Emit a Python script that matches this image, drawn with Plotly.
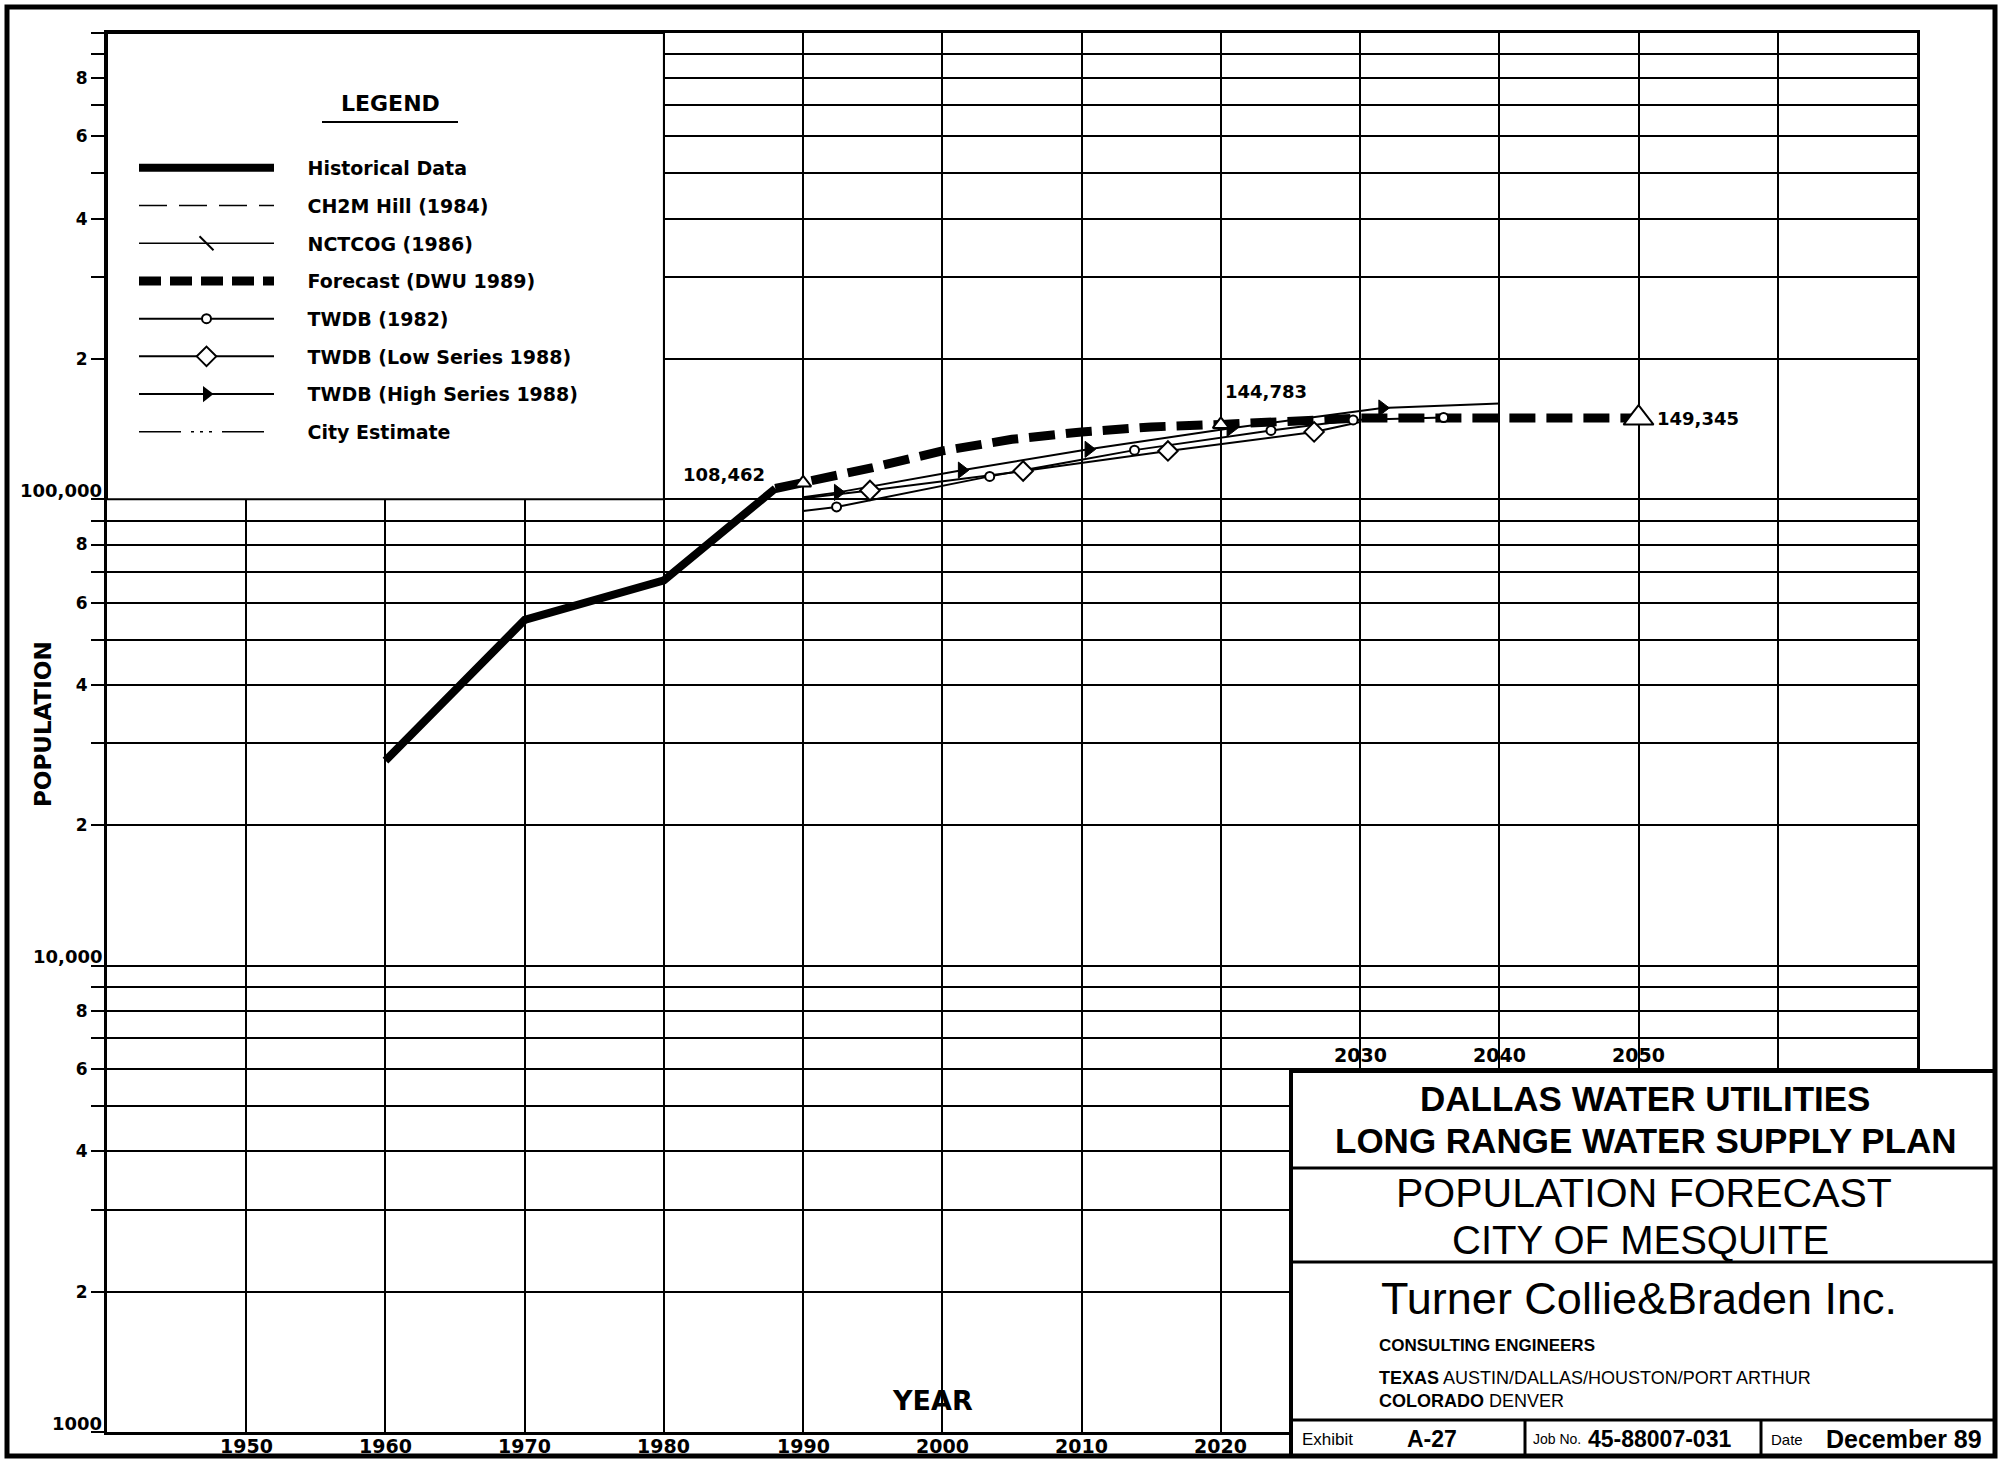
import math
import plotly.graph_objects as go

# ---------------- data ----------------
hist_years = [1960, 1970, 1980, 1988]
hist_pop = [27526, 55131, 67053, 105500]

forecast_years = [1988, 1990, 1995, 2000, 2005, 2010, 2015, 2020, 2025, 2030, 2040, 2050]
forecast_pop = [105500, 108462, 117000, 127000, 134500, 139500, 143000, 144783, 147500, 149345, 149345, 149345]

twdb82_years = [1990, 1992.4, 2003.4, 2013.8, 2023.6, 2029.5, 2036]
twdb82_pop = [94400, 96300, 112000, 127500, 140500, 148000, 149800]

twdb_low_years = [1990, 1994.8, 2005.8, 2016.2, 2026.7, 2030]
twdb_low_pop = [100500, 104500, 115000, 127000, 139500, 146500]

twdb_high_years = [1990, 1992.5, 2001.4, 2010.5, 2020.7, 2031.6, 2040]
twdb_high_pop = [101000, 103500, 115500, 128000, 142000, 157000, 160500]

key_years = [1990, 2020, 2050]
key_pop = [108462, 144783, 149345]
key_labels = ["108,462", "144,783", "149,345"]

x_grid_years = list(range(1940, 2071, 10))
lower_year_values = [1950, 1960, 1970, 1980, 1990, 2000, 2010, 2020]
lower_year_labels = ["1950", "1960", "1970", "1980", "1990", "2000", "2010", "2020"]
upper_year_values = [2030, 2040, 2050]
upper_year_labels = ["2030", "2040", "2050"]

decade_values = [3, 4, 5]          # log10 of 1000, 10,000, 100,000
decade_labels = ["1000", "10,000", "100,000"]

legend_names = ["Historical Data", "CH2M Hill (1984)", "NCTCOG (1986)", "Forecast (DWU 1989)",
                "TWDB (1982)", "TWDB (Low Series 1988)", "TWDB (High Series 1988)", "City Estimate"]

# ---------------- geometry helpers ----------------
W, H = 1999, 1459
ML, MR, MT, MB = 107, 82, 33, 27
PW, PH = W - ML - MR, H - MT - MB


def px(x):
    return (x - ML) / PW


def py(y):
    return (H - MB - y) / PH


BOLD = "DejaVu Sans"
SANS = "Liberation Sans"
BLACK = "black"

fig = go.Figure()

# ---------------- data traces ----------------
fig.add_trace(go.Scatter(x=hist_years, y=hist_pop, mode="lines", showlegend=False,
                         line=dict(color=BLACK, width=8)))
fig.add_trace(go.Scatter(x=twdb82_years, y=twdb82_pop, mode="lines", showlegend=False,
                         line=dict(color=BLACK, width=2)))
fig.add_trace(go.Scatter(x=twdb_low_years, y=twdb_low_pop, mode="lines", showlegend=False,
                         line=dict(color=BLACK, width=2)))
fig.add_trace(go.Scatter(x=twdb_high_years, y=twdb_high_pop, mode="lines", showlegend=False,
                         line=dict(color=BLACK, width=2)))
fig.add_trace(go.Scatter(x=forecast_years, y=forecast_pop, mode="lines", showlegend=False,
                         line=dict(color=BLACK, width=9, dash="26px,11px")))
# markers placed along the projection lines
fig.add_trace(go.Scatter(x=twdb82_years[1:], y=twdb82_pop[1:], mode="markers", showlegend=False,
                         marker=dict(symbol="circle", size=9, color="white", line=dict(color=BLACK, width=2))))
fig.add_trace(go.Scatter(x=twdb_low_years[1:-1], y=twdb_low_pop[1:-1], mode="markers", showlegend=False,
                         marker=dict(symbol="diamond", size=15, color="white", line=dict(color=BLACK, width=2))))
fig.add_trace(go.Scatter(x=twdb_high_years[1:-1], y=twdb_high_pop[1:-1], mode="markers", showlegend=False,
                         marker=dict(symbol="triangle-right", size=14, color=BLACK, line=dict(color=BLACK, width=1))))
fig.add_trace(go.Scatter(x=key_years, y=key_pop, mode="markers", showlegend=False,
                         marker=dict(symbol="triangle-up", size=[14, 14, 26], color="white", opacity=1,
                                     line=dict(color=BLACK, width=2))))

# ---------------- legend entries ----------------
legend_styles = [
    dict(mode="lines", line=dict(color=BLACK, width=8)),
    dict(mode="lines", line=dict(color=BLACK, width=1.5, dash="28px,12px")),
    dict(mode="lines+markers", line=dict(color=BLACK, width=1.5),
         marker=dict(symbol="line-nw", size=14, line=dict(color=BLACK, width=2))),
    dict(mode="lines", line=dict(color=BLACK, width=9, dash="22px,9px")),
    dict(mode="lines+markers", line=dict(color=BLACK, width=2),
         marker=dict(symbol="circle", size=9, color="white", line=dict(color=BLACK, width=2))),
    dict(mode="lines+markers", line=dict(color=BLACK, width=2),
         marker=dict(symbol="diamond", size=15, color="white", line=dict(color=BLACK, width=2))),
    dict(mode="lines+markers", line=dict(color=BLACK, width=2),
         marker=dict(symbol="triangle-right", size=14, color=BLACK)),
    dict(mode="lines", line=dict(color=BLACK, width=1.5, dash="42px,10px,3px,6px,3px,6px,3px,10px")),
]
for name, st in zip(legend_names, legend_styles):
    fig.add_trace(go.Scatter(x=[None], y=[None], name="\u2003\u2002" + name, legendgroup=name,
                             showlegend=True, **st))

# ---------------- axes ----------------
y_tickvals = [k * 10 ** e for e in (3, 4, 5) for k in range(1, 10)] + [10 ** 6]
y_ticktext = [(str(k) if k in (2, 4, 6, 8) else "") for e in (3, 4, 5) for k in range(1, 10)] + [""]

fig.update_xaxes(range=[1940, 2070], tickvals=x_grid_years, ticktext=[""] * len(x_grid_years), ticks="",
                 showgrid=True, gridcolor=BLACK, gridwidth=2, showline=True, linecolor=BLACK,
                 linewidth=3, mirror=True, zeroline=False)
fig.update_yaxes(type="log", range=[3, 6], tickvals=y_tickvals, ticktext=y_ticktext,
                 ticks="outside", ticklen=13, tickwidth=2, tickcolor=BLACK,
                 showgrid=True, gridcolor=BLACK, gridwidth=2, showline=True, linecolor=BLACK,
                 linewidth=3, mirror=True, zeroline=False,
                 tickfont=dict(family=BOLD, size=17, color=BLACK, weight="bold"))

# ---------------- shapes ----------------
shapes = [
    # legend panel (covers the grid in the upper-left)
    dict(type="rect", xref="x", yref="paper", x0=1940, x1=1980, y0=2 / 3, y1=1,
         fillcolor="white", line=dict(color=BLACK, width=2), layer="above"),
    # underline of LEGEND
    dict(type="line", xref="paper", yref="paper", x0=px(322), x1=px(458), y0=py(122), y1=py(122),
         line=dict(color=BLACK, width=2)),
    # title block
    dict(type="rect", xref="paper", yref="paper", x0=px(1291), x1=px(1995), y0=py(1456), y1=py(1071),
         fillcolor="white", line=dict(color=BLACK, width=4)),
    dict(type="line", xref="paper", yref="paper", x0=px(1291), x1=px(1995), y0=py(1168), y1=py(1168),
         line=dict(color=BLACK, width=3)),
    dict(type="line", xref="paper", yref="paper", x0=px(1291), x1=px(1995), y0=py(1262), y1=py(1262),
         line=dict(color=BLACK, width=3)),
    dict(type="line", xref="paper", yref="paper", x0=px(1291), x1=px(1995), y0=py(1420), y1=py(1420),
         line=dict(color=BLACK, width=3)),
    dict(type="line", xref="paper", yref="paper", x0=px(1525), x1=px(1525), y0=py(1420), y1=py(1456),
         line=dict(color=BLACK, width=3)),
    dict(type="line", xref="paper", yref="paper", x0=px(1761), x1=px(1761), y0=py(1420), y1=py(1456),
         line=dict(color=BLACK, width=3)),
    # outer frame
    dict(type="rect", xref="paper", yref="paper", x0=px(7), x1=px(1995), y0=py(1456), y1=py(7),
         line=dict(color=BLACK, width=5)),
]

# ---------------- annotations ----------------
ann = []


def text(x, y, s, size, family=SANS, bold=False, xanchor="center", **kw):
    ann.append(dict(x=x, y=y, xref=kw.pop("xref", "paper"), yref=kw.pop("yref", "paper"), text=s,
                    showarrow=False, xanchor=xanchor, yanchor=kw.pop("yanchor", "middle"),
                    font=dict(family=family, size=size, color=BLACK, weight="bold" if bold else "normal"),
                    **kw))


for v, lab in zip(decade_values, decade_labels):
    text(px(104), v, lab, 18, BOLD, True, xanchor="right", yref="y", yshift=9)

for v, lab in zip(lower_year_values, lower_year_labels):
    text(v, py(1446), lab, 19, BOLD, True, xref="x")

for v, lab in zip(upper_year_values, upper_year_labels):
    text(v, py(1055), lab, 19, BOLD, True, xref="x")

key_offsets = [dict(xanchor="right", xshift=-36, yshift=8),
               dict(xanchor="left", xshift=2, yshift=33),
               dict(xanchor="left", xshift=16, yshift=0)]
for xv, yv, lab, off in zip(key_years, key_pop, key_labels, key_offsets):
    text(xv, math.log10(yv), lab, 18, BOLD, True, xref="x", yref="y", **off)

text(px(43), py(724), "POPULATION", 23, BOLD, True, textangle=-90)
text(px(932), py(1400), "YEAR", 27, BOLD, True)
text(px(390), py(104), "LEGEND", 22, BOLD, True)

# title block
text(px(1645), py(1098), "DALLAS WATER UTILITIES", 35, SANS, True)
text(px(1646), py(1140), "LONG RANGE WATER SUPPLY PLAN", 35, SANS, True)
text(px(1644), py(1193), "POPULATION FORECAST", 41, SANS)
text(px(1640), py(1240), "CITY OF MESQUITE", 40, SANS)
text(px(1639), py(1298), "Turner Collie&Braden Inc.", 45, SANS)
text(px(1377), py(1345), "CONSULTING ENGINEERS", 17, SANS, True, xanchor="left")
text(px(1377), py(1378), "<b>TEXAS</b> AUSTIN/DALLAS/HOUSTON/PORT ARTHUR", 18, SANS, xanchor="left")
text(px(1377), py(1401), "<b>COLORADO</b> DENVER", 18, SANS, xanchor="left")
text(px(1300), py(1439), "Exhibit", 17, SANS, xanchor="left")
text(px(1405), py(1439), "A-27", 23, SANS, True, xanchor="left")
text(px(1531), py(1439), "Job No.", 14, SANS, xanchor="left")
text(px(1586), py(1439), "45-88007-031", 23, SANS, True, xanchor="left")
text(px(1769), py(1439), "Date", 15, SANS, xanchor="left")
text(px(1824), py(1439), "December 89", 25, SANS, True, xanchor="left")

fig.update_layout(
    width=W, height=H,
    margin=dict(l=ML, r=MR, t=MT, b=MB, autoexpand=False),
    paper_bgcolor="white", plot_bgcolor="white",
    showlegend=True,
    legend=dict(x=px(134), y=py(149), xanchor="left", yanchor="top", bgcolor="rgba(0,0,0,0)",
                borderwidth=0, itemwidth=135, tracegroupgap=10, traceorder="grouped",
                font=dict(family=BOLD, size=19, color=BLACK, weight="bold")),
    shapes=shapes,
    annotations=ann,
)

fig.write_html("out.html")
